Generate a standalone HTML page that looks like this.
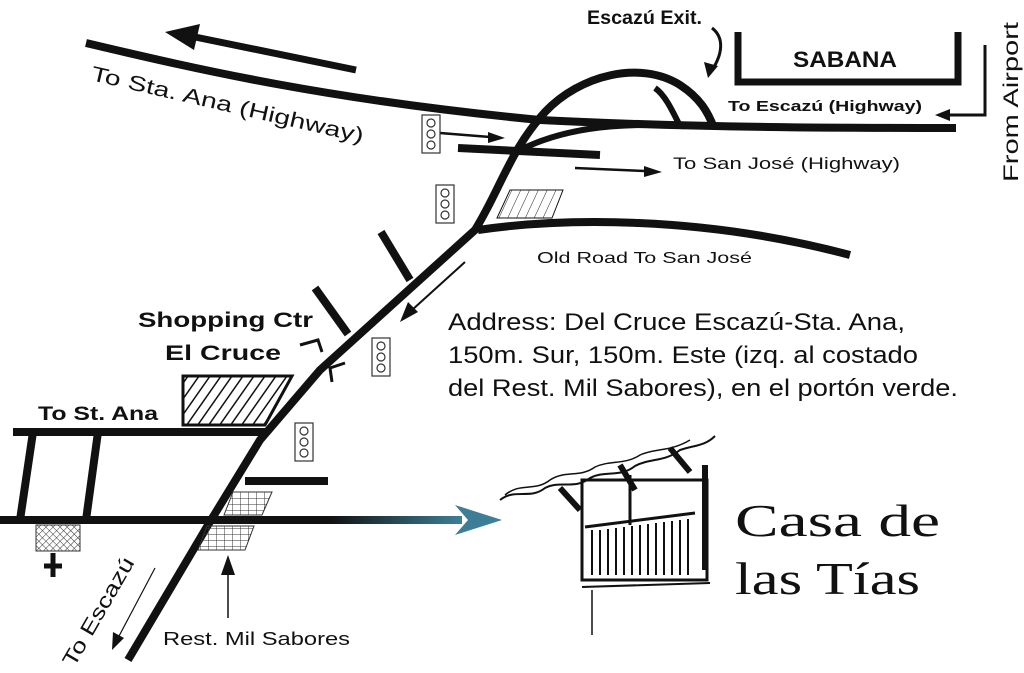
<!DOCTYPE html>
<html><head><meta charset="utf-8"><style>
html,body{margin:0;padding:0;background:#fff;}
svg{display:block;}
text{font-family:"Liberation Sans",sans-serif;fill:#111;}
</style></head><body>
<svg width="1024" height="673" viewBox="0 0 1024 673" xmlns="http://www.w3.org/2000/svg">
<defs>
<pattern id="h1" width="9" height="9" patternUnits="userSpaceOnUse" patternTransform="rotate(35)"><line x1="0" y1="0" x2="0" y2="9" stroke="#111" stroke-width="3"/></pattern>
<pattern id="h2" width="8" height="8" patternUnits="userSpaceOnUse" patternTransform="rotate(25)"><line x1="0" y1="0" x2="0" y2="8" stroke="#222" stroke-width="1"/></pattern>
<pattern id="x1" width="5" height="5" patternUnits="userSpaceOnUse" patternTransform="rotate(45)"><path d="M0 0H5M0 0V5" stroke="#333" stroke-width="1"/></pattern>
<pattern id="g1" width="8" height="6" patternUnits="userSpaceOnUse"><path d="M0 0H8M0 0V6" stroke="#333" stroke-width="1"/></pattern>
<linearGradient id="tg" gradientUnits="userSpaceOnUse" x1="330" y1="0" x2="460" y2="0"><stop offset="0" stop-color="#111"/><stop offset="1" stop-color="#3d7e96"/></linearGradient>
</defs>
<g fill="none" stroke="#111" stroke-linecap="butt">
<path d="M86 43 C200 70 330 100 540 120 C700 128 850 128 956 128" stroke-width="8"/>
<line x1="356" y1="70" x2="195" y2="37" stroke-width="7"/>
<path d="M128 660 L208 525 L260 440 L320 370 L475 230 C500 190 510 150 545 112 C580 75 640 60 680 85 C700 98 708 112 714 128" stroke-width="8"/>
<path d="M520 150 C560 130 610 122 680 126 C672 110 665 95 655 88" stroke-width="6"/>
<path d="M458 148 L600 155" stroke-width="8"/>
<path d="M478 230 C560 218 700 215 850 255" stroke-width="8"/>
<line x1="381" y1="232" x2="410" y2="280" stroke-width="8"/>
<line x1="315" y1="288" x2="348" y2="334" stroke-width="8"/>
<path d="M300 345 L318 340 L322 352" stroke-width="3"/>
<path d="M345 363 L330 368 L332 382" stroke-width="3"/>
<line x1="13" y1="432" x2="266" y2="432" stroke-width="8"/>
<line x1="33" y1="432" x2="20" y2="520" stroke-width="8"/>
<line x1="98" y1="432" x2="86" y2="520" stroke-width="8"/>
<line x1="0" y1="520" x2="331" y2="520" stroke-width="8"/>
<line x1="245" y1="481" x2="328" y2="481" stroke-width="8"/>
<line x1="330" y1="520" x2="462" y2="520" stroke="url(#tg)" stroke-width="8"/>
<line x1="440" y1="133" x2="490" y2="137" stroke-width="2.5"/>
<line x1="575" y1="168" x2="645" y2="171" stroke-width="2.5"/>
<line x1="228" y1="575" x2="228" y2="618" stroke-width="1.5"/>
<line x1="155" y1="568" x2="118" y2="638" stroke-width="1.2"/>
<line x1="465" y1="262" x2="412" y2="310" stroke-width="2"/>
<path d="M738 32 V82 H958 V32" stroke-width="7"/>
<path d="M985 45 V115 H945" stroke-width="3"/>
<path d="M712 28 C725 38 722 55 712 70" stroke-width="3"/>
<polygon points="497,218 510,190 563,190 552,218" fill="url(#h2)" stroke-width="1"/>
<polygon points="183,376 292,376 265,425 183,425" fill="url(#h1)" stroke-width="3"/>
<polygon points="224,515 233,492 272,492 262,515" fill="url(#g1)" stroke="#333" stroke-width="1"/>
<polygon points="198,550 207,526 254,526 245,550" fill="url(#g1)" stroke="#333" stroke-width="1"/>
<rect x="36" y="525" width="44" height="26" fill="url(#x1)" stroke="#333" stroke-width="1"/>
<path d="M53 553 V577 M44 566 H62" stroke-width="5"/>
</g>
<g fill="#111">
<polygon points="165,32 200,24 194,50"/>
<polygon points="505,138 488,132 488,143"/>
<polygon points="662,172 644,166 644,177"/>
<polygon points="228,555 221,575 235,575"/>
<polygon points="112,650 113,632 124,638"/>
<polygon points="400,322 408,302 418,312"/>
<polygon points="935,115 950,109 950,121"/>
<polygon points="708,78 704,62 718,66"/>
</g>
<polygon points="502,520 455,505 468,520 455,535" fill="#3d7e96"/>
<g fill="#fff" stroke="#333" stroke-width="1.2">
<rect x="422" y="115" width="18" height="38"/><circle cx="431" cy="123" r="4"/><circle cx="431" cy="134" r="4"/><circle cx="431" cy="145" r="4"/>
<rect x="436" y="185" width="18" height="38"/><circle cx="445" cy="193" r="4"/><circle cx="445" cy="204" r="4"/><circle cx="445" cy="215" r="4"/>
<rect x="372" y="338" width="18" height="38"/><circle cx="381" cy="346" r="4"/><circle cx="381" cy="357" r="4"/><circle cx="381" cy="368" r="4"/>
<rect x="295" y="423" width="18" height="38"/><circle cx="304" cy="431" r="4"/><circle cx="304" cy="442" r="4"/><circle cx="304" cy="453" r="4"/>
</g>
<g fill="none" stroke="#111">
<path d="M500 500 C515 488 530 500 545 488 C560 480 575 490 590 478 C605 470 620 478 635 466 C650 458 665 462 680 450 C695 445 705 446 715 436" stroke-width="2"/>
<path d="M505 495 C520 482 535 492 550 480 C565 470 580 478 595 467 C610 460 625 465 640 455 C655 448 670 452 690 440" stroke-width="1.5"/>
<path d="M560 488 L580 510 M620 465 L635 490 M670 448 L690 472" stroke-width="6"/>
<rect x="582" y="480" width="125" height="100" stroke-width="3"/>
<line x1="630" y1="475" x2="630" y2="525" stroke-width="3"/>
<line x1="705" y1="465" x2="705" y2="570" stroke-width="6"/>
<line x1="585" y1="527" x2="695" y2="513" stroke-width="3"/>
<path d="M592 530V575M600 530V575M608 529V575M616 528V575M624 527V575M632 526V575M640 525V575M648 524V575M656 523V575M664 522V575M672 521V575M680 520V575M688 519V575" stroke-width="2"/>
<line x1="582" y1="587" x2="710" y2="583" stroke-width="2"/>
<line x1="592" y1="590" x2="592" y2="635" stroke-width="1.5"/>
</g>
<text x="90" y="80" font-size="21" transform="rotate(13 90 80)" textLength="279" lengthAdjust="spacingAndGlyphs">To Sta. Ana (Highway)</text>
<text x="587" y="24" font-size="19" font-weight="bold" textLength="115" lengthAdjust="spacingAndGlyphs">Escazú Exit.</text>
<text x="793" y="67" font-size="22" font-weight="bold" textLength="104" lengthAdjust="spacingAndGlyphs">SABANA</text>
<text x="728" y="111" font-size="15" font-weight="bold" textLength="194" lengthAdjust="spacingAndGlyphs">To Escazú (Highway)</text>
<text x="673" y="169" font-size="17" textLength="227" lengthAdjust="spacingAndGlyphs">To San José (Highway)</text>
<text x="537" y="263" font-size="16" textLength="215" lengthAdjust="spacingAndGlyphs">Old Road To San José</text>
<text x="1018" y="182" font-size="21" transform="rotate(-90 1018 182)" textLength="160" lengthAdjust="spacingAndGlyphs">From Airport</text>
<text x="138" y="327" font-size="21" font-weight="bold" textLength="175" lengthAdjust="spacingAndGlyphs">Shopping Ctr</text>
<text x="165" y="360" font-size="21" font-weight="bold" textLength="116" lengthAdjust="spacingAndGlyphs">El Cruce</text>
<text x="38" y="420" font-size="19" font-weight="bold" textLength="120" lengthAdjust="spacingAndGlyphs">To St. Ana</text>
<text x="163" y="645" font-size="18" textLength="187" lengthAdjust="spacingAndGlyphs">Rest. Mil Sabores</text>
<text x="74" y="668" font-size="21" transform="rotate(-60 74 668)" textLength="122" lengthAdjust="spacingAndGlyphs">To Escazú</text>
<text x="448" y="330" font-size="24" textLength="457" lengthAdjust="spacingAndGlyphs">Address: Del Cruce Escazú-Sta. Ana,</text>
<text x="448" y="363" font-size="24" textLength="470" lengthAdjust="spacingAndGlyphs">150m. Sur, 150m. Este (izq. al costado</text>
<text x="448" y="396" font-size="24" textLength="510" lengthAdjust="spacingAndGlyphs">del Rest. Mil Sabores), en el portón verde.</text>
<text x="735" y="536" font-size="46" style="font-family:'Liberation Serif',serif" textLength="205" lengthAdjust="spacingAndGlyphs">Casa de</text>
<text x="735" y="594" font-size="46" style="font-family:'Liberation Serif',serif" textLength="185" lengthAdjust="spacingAndGlyphs">las Tías</text>
</svg>
</body></html>
